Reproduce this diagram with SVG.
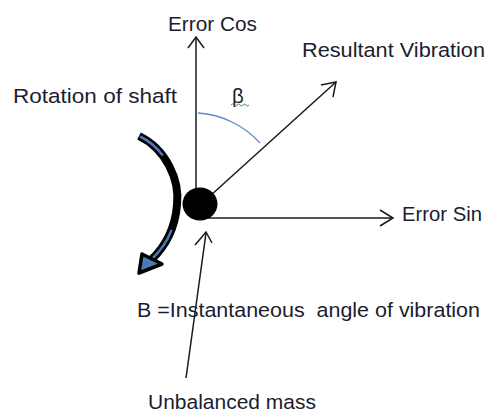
<svg xmlns="http://www.w3.org/2000/svg" width="488" height="413" viewBox="0 0 488 413">
<style>
text{font-family:"Liberation Sans",Arial,sans-serif;font-size:20.5px;fill:#1c1c30}
.ax{stroke:#1a1a1a;stroke-width:1.5;fill:none}
.head{stroke:#1a1a1a;stroke-width:1.5;fill:none;stroke-linejoin:miter}
</style>
<rect width="488" height="413" fill="#fff"/>
<g id="connectors">
  <g id="axis-cos"><line class="ax" x1="196" y1="190" x2="196" y2="38"/><polyline class="head" points="188,48 196,37 204,48"/></g>
  <g id="axis-sin"><line class="ax" x1="208" y1="218" x2="393" y2="218"/><polyline class="head" points="380,210 393,218 380,226"/></g>
  <g id="resultant"><line class="ax" x1="210" y1="196" x2="336" y2="82"/><polyline class="head" points="321,85 336,82 333,97"/></g>
  <g id="mass-arrow"><line class="ax" x1="186" y1="378" x2="206" y2="233"/><polyline class="head" points="195,245 206,232 212,243"/></g>
  <path id="beta-arc" d="M198,113 A92,92 0 0 1 260,143" fill="none" stroke="#5b8bc8" stroke-width="1.3"/>
</g>
<g id="shaft">
  <ellipse cx="200" cy="204" rx="17.5" ry="16.5" fill="#000"/>
</g>
<g id="rotation-arrow">
  <path d="M139,136 C166,149 180,180 177,205 C175,229 166,246 151,260" fill="none" stroke="#000" stroke-width="8"/>
  <path d="M140,136.5 C166,149 180,180 177,205 C175,229 166,246 151,260" fill="none" stroke="#4a7ab8" stroke-width="2.5" stroke-dasharray="30 78 60"/>
  <path d="M162,264 L139,273 L142,254 Z" fill="#4a7ab8" stroke="#000" stroke-width="3.5" stroke-linejoin="round"/>
</g>
<g id="labels">
  <text x="168" y="31" textLength="89" lengthAdjust="spacingAndGlyphs">Error Cos</text>
  <text x="302" y="57" textLength="183" lengthAdjust="spacingAndGlyphs">Resultant Vibration</text>
  <text x="13" y="103" textLength="164" lengthAdjust="spacingAndGlyphs">Rotation of shaft</text>
  <text x="402" y="221" textLength="80" lengthAdjust="spacingAndGlyphs">Error Sin</text>
  <text x="137" y="317" textLength="343" lengthAdjust="spacingAndGlyphs" xml:space="preserve">B =Instantaneous  angle of vibration</text>
  <text x="148" y="409" textLength="168" lengthAdjust="spacingAndGlyphs">Unbalanced mass</text>
  <text x="232" y="103">β</text>
  <path d="M231,105 q1.5,-2 3,0 t3,0 t3,0 t3,0 t3,0 t3,0" fill="none" stroke="#3aa03a" stroke-width="1"/>
</g>
</svg>
